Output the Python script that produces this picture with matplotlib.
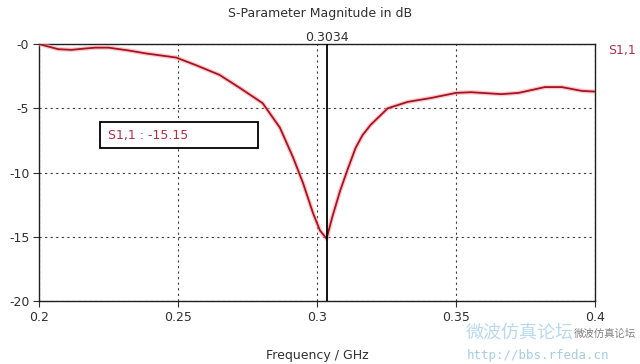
import matplotlib.pyplot as plt
from matplotlib.patches import Rectangle

# S1,1 magnitude
freq_ghz = [0.2, 0.2069, 0.2116, 0.2165, 0.2203, 0.2250, 0.2322, 0.2384, 0.2493,
            0.2565, 0.2649, 0.2721, 0.2804, 0.2866, 0.2913, 0.2949, 0.2986,
            0.3010, 0.3034, 0.3054, 0.3083, 0.3109, 0.3138, 0.3163, 0.3192,
            0.3254, 0.3326, 0.3409, 0.3500, 0.3554, 0.3663, 0.3725, 0.3819,
            0.3880, 0.3953, 0.4]
s11_db = [0.0, -0.4, -0.45, -0.35, -0.28, -0.28, -0.5, -0.73, -1.05,
          -1.65, -2.4, -3.4, -4.6, -6.5, -8.8, -10.8, -13.2,
          -14.5, -15.15, -13.5, -11.4, -9.8, -8.1, -7.1, -6.3,
          -5.0, -4.5, -4.2, -3.8, -3.75, -3.9, -3.8, -3.35,
          -3.35, -3.65, -3.7]

x_ticks = [0.2, 0.25, 0.3, 0.35, 0.4]
x_tick_labels = ["0.2", "0.25", "0.3", "0.35", "0.4"]
y_ticks = [0, -5, -10, -15, -20]
y_tick_labels = ["-0", "-5", "-10", "-15", "-20"]

marker_freq = 0.3034
marker_val = -15.15

plt.rcParams['font.family'] = ['DejaVu Sans', 'Noto Sans CJK SC']

fig = plt.figure(figsize=(6.4, 3.64), dpi=100)
ax = fig.add_axes([0.061, 0.173, 0.869, 0.706])

red = "#a8141e"
label_red = "#b03048"
text_col = "#303030"

# glow under the trace
ax.plot(freq_ghz, s11_db, color="#f4a8b0", lw=3.2, alpha=0.6, zorder=3)
ax.plot(freq_ghz, s11_db, color=red, lw=1.3, zorder=4)

ax.set_xlim(0.2, 0.4)
ax.set_ylim(-20, 0)
ax.set_xticks(x_ticks)
ax.set_xticklabels(x_tick_labels)
ax.set_yticks(y_ticks)
ax.set_yticklabels(y_tick_labels)
ax.tick_params(direction="out", length=4, width=0.8, labelsize=9,
               colors=text_col, pad=3)

ax.grid(True, color="#404040", linestyle=(0, (2, 3)), linewidth=0.8)
for s in ax.spines.values():
    s.set_color("#202020")
    s.set_linewidth(1.0)

# marker line
ax.axvline(marker_freq, color="black", lw=1.3, zorder=5)
fig.text(0.061 + 0.869 * (marker_freq - 0.2) / 0.2, 0.896, f"{marker_freq:.4f}",
         ha="center", va="center", fontsize=9, color=text_col)

# marker readout box
ax.add_patch(Rectangle((0.2219, -8.1), 0.0569, 2.03, fc="white", ec="black",
                       lw=1.3, zorder=6))
ax.text(0.2248, -7.08, f"S1,1 : {marker_val:.2f}", fontsize=9, color=label_red,
        va="center", ha="left", zorder=7)

fig.text(0.5, 0.962, "S-Parameter Magnitude in dB", fontsize=9, color=text_col,
         ha="center", va="center")
ax.set_xlabel("Frequency / GHz", fontsize=9, color=text_col, labelpad=18)

fig.text(0.950, 0.862, "S1,1", fontsize=9, color=label_red, ha="left", va="center")

# watermark
fig.text(0.728, 0.083, "微波仿真论坛", fontsize=13, color="#a8d0e8", alpha=0.8,
         family=['Noto Sans CJK SC', 'DejaVu Sans'], ha="left", va="center")
fig.text(0.897, 0.083, "微波仿真论坛", fontsize=7.5, color="#808080",
         family=['Noto Sans CJK SC', 'DejaVu Sans'], ha="left", va="center")
fig.text(0.73, 0.022, "http://bbs.rfeda.cn", fontsize=9, color="#a8cce0",
         family="DejaVu Sans Mono", ha="left", va="center")

fig.savefig("out.png", dpi=100)
